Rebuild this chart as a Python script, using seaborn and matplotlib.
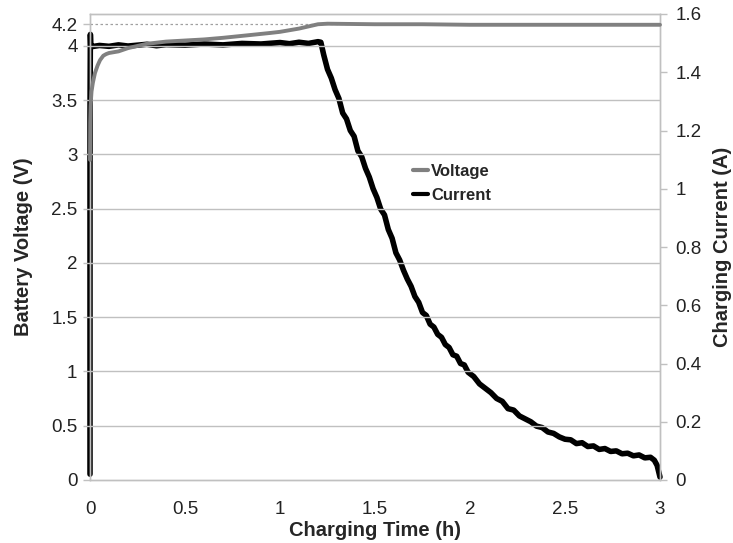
import matplotlib
matplotlib.use("Agg")
import matplotlib.pyplot as plt
import seaborn as sns
import pandas as pd
from matplotlib.lines import Line2D

# ---- data ----
volt_t = [0.0, 0.001, 0.003, 0.008, 0.015, 0.026, 0.04, 0.053, 0.07, 0.085, 0.1,
          0.15, 0.2, 0.3, 0.4, 0.5, 0.6, 0.7, 0.84, 0.95, 1.0, 1.05, 1.1, 1.15,
          1.2, 1.25, 1.5, 1.75, 2.0, 2.25, 2.5, 2.75, 3.0]
volt_v = [2.95, 3.30, 3.45, 3.58, 3.66, 3.75, 3.82, 3.87, 3.91, 3.925, 3.935,
          3.95, 3.98, 4.02, 4.04, 4.05, 4.06, 4.075, 4.10, 4.12, 4.13, 4.145, 4.16, 4.18,
          4.20, 4.205, 4.20, 4.20, 4.195, 4.195, 4.195, 4.195, 4.195]

curr_t = [0.0, 0.0, 0.002, 0.004, 0.01, 0.05, 0.1, 0.15, 0.2, 0.3, 0.35, 0.4, 0.5, 0.6, 0.7,
          0.8, 0.9, 1.0, 1.05, 1.1, 1.15, 1.2, 1.215,
          1.23, 1.25, 1.27, 1.29, 1.31, 1.33, 1.35, 1.37, 1.39, 1.41, 1.43, 1.45, 1.47,
          1.49, 1.51, 1.53, 1.55, 1.57, 1.59, 1.61, 1.63, 1.65, 1.67, 1.69, 1.71, 1.73,
          1.75, 1.77, 1.79, 1.81, 1.83, 1.85, 1.87, 1.89, 1.91, 1.93, 1.95, 1.97, 1.99,
          2.02, 2.05, 2.08, 2.11, 2.14, 2.17, 2.2, 2.23, 2.26, 2.29, 2.32, 2.35, 2.38,
          2.41, 2.44, 2.47, 2.5, 2.53, 2.56, 2.59, 2.62, 2.65, 2.68, 2.71, 2.74, 2.77,
          2.8, 2.83, 2.86, 2.89, 2.92, 2.95, 2.97, 2.985, 3.0]
curr_a = [0.02, 1.25, 1.53, 1.49, 1.488, 1.492, 1.489, 1.494, 1.49, 1.496, 1.491, 1.495, 1.493,
          1.497, 1.494, 1.499, 1.497, 1.502, 1.498, 1.503, 1.499, 1.505, 1.503,
          1.46, 1.41, 1.38, 1.34, 1.31, 1.26, 1.24, 1.20, 1.18, 1.13, 1.11, 1.07, 1.04,
          1.00, 0.97, 0.93, 0.91, 0.86, 0.83, 0.78, 0.755, 0.72, 0.69, 0.665, 0.63, 0.61,
          0.575, 0.565, 0.535, 0.525, 0.50, 0.49, 0.465, 0.455, 0.43, 0.425, 0.40, 0.395, 0.37,
          0.355, 0.33, 0.315, 0.30, 0.28, 0.27, 0.245, 0.24, 0.22, 0.21, 0.20, 0.185, 0.18,
          0.165, 0.16, 0.148, 0.14, 0.138, 0.125, 0.128, 0.115, 0.117, 0.105, 0.108, 0.098, 0.1,
          0.09, 0.092, 0.083, 0.086, 0.076, 0.078, 0.068, 0.05, 0.01]

left_ticks = [0, 0.5, 1, 1.5, 2, 2.5, 3, 3.5, 4, 4.2]
left_labels = ["0", "0.5", "1", "1.5", "2", "2.5", "3", "3.5", "4", "4.2"]
right_ticks = [0, 0.2, 0.4, 0.6, 0.8, 1, 1.2, 1.4, 1.6]
right_labels = ["0", "0.2", "0.4", "0.6", "0.8", "1", "1.2", "1.4", "1.6"]
x_ticks = [0, 0.5, 1, 1.5, 2, 2.5, 3]
x_labels = ["0", "0.5", "1", "1.5", "2", "2.5", "3"]

sns.set_style("white")
plt.rcParams['font.family'] = ['Liberation Sans', 'DejaVu Sans']

vdf = pd.DataFrame({"t": volt_t, "v": volt_v})
cdf = pd.DataFrame({"t": curr_t, "a": curr_a})

fig = plt.figure(figsize=(7.33, 5.43), dpi=100)
ax = fig.add_axes([90/733, 1-480/543, 570/733, 466/543])
ax2 = ax.twinx()

grid_c = "#c0c0c0"
for y in [0.5, 1, 1.5, 2, 2.5, 3, 3.5, 4]:
    ax.axhline(y, color=grid_c, lw=1.0, zorder=0)
ax.axhline(4.2, color="#a0a0a0", lw=0.9, ls=(0, (2, 2)), zorder=0)

sns.lineplot(data=vdf, x="t", y="v", ax=ax, color="#808080", lw=2.8,
             estimator=None, sort=False, zorder=3, clip_on=False)
sns.lineplot(data=cdf, x="t", y="a", ax=ax2, color="black", lw=4.0,
             estimator=None, sort=False, zorder=2, clip_on=False)

ax.set_zorder(ax2.get_zorder() + 1)
ax.patch.set_visible(False)

ax.set_xlim(0, 3)
ax.set_ylim(0, 4.2944)
ax2.set_ylim(0, 1.6)

ax.set_xticks(x_ticks)
ax.set_xticklabels(x_labels)
ax.set_yticks(left_ticks)
ax.set_yticklabels(left_labels)
ax2.set_yticks(right_ticks)
ax2.set_yticklabels(right_labels)

for a in (ax, ax2):
    for s in a.spines.values():
        s.set_color(grid_c)
        s.set_linewidth(1.0)
    a.tick_params(axis="both", labelcolor="#222222", labelsize=13.5, length=5,
                  width=1.0, direction="out", color=grid_c)
ax.tick_params(axis="x", pad=10)
ax.tick_params(axis="y", pad=4)
ax2.tick_params(axis="y", pad=6)

ax.set_xlabel("Charging Time (h)", fontsize=14.5, fontweight="bold", labelpad=2)
ax.set_ylabel("Battery Voltage (V)", fontsize=14.5, fontweight="bold", labelpad=13)
ax2.set_ylabel("Charging Current (A)", fontsize=14.5, fontweight="bold", labelpad=8)

handles = [Line2D([0], [0], color="#808080", lw=3.0),
           Line2D([0], [0], color="black", lw=3.0)]
ax.legend(handles, ["Voltage", "Current"], loc="upper left",
          bbox_to_anchor=(0.54, 0.71), frameon=False, handlelength=0.9,
          handletextpad=0.2, labelspacing=0.55,
          prop={"weight": "bold", "size": 12})

fig.savefig("out.png", dpi=100)
